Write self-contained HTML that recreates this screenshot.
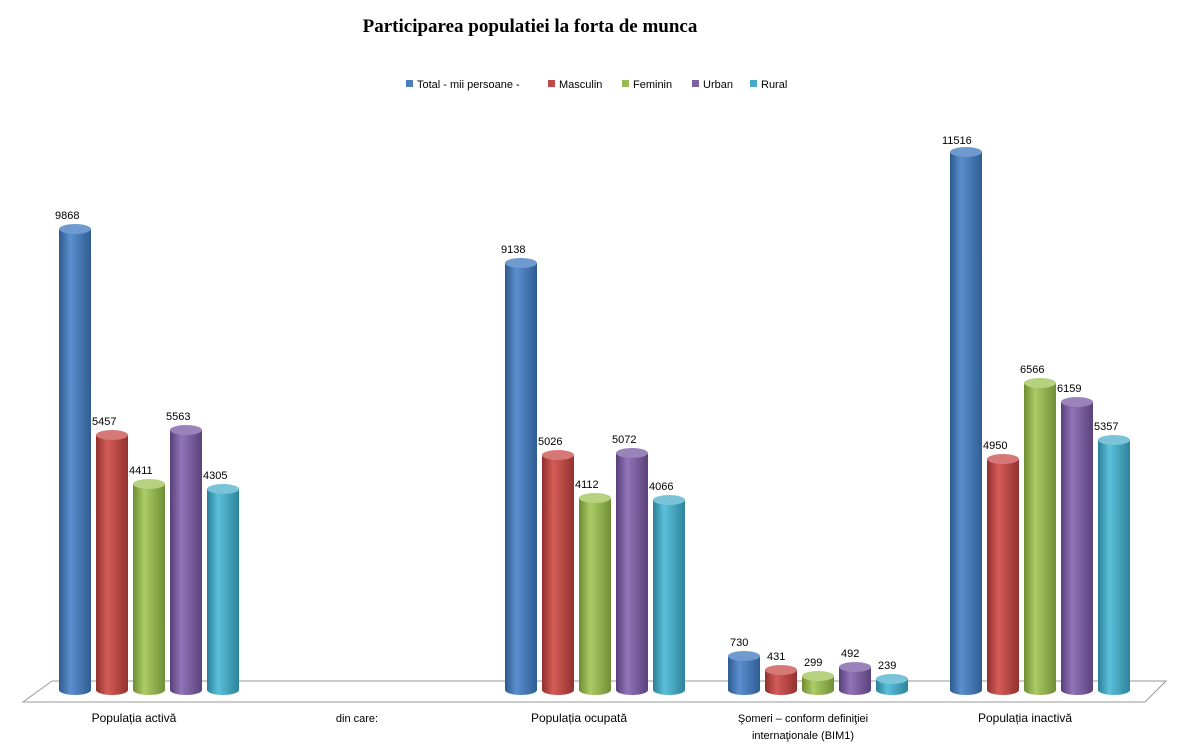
<!DOCTYPE html>
<html><head><meta charset="utf-8"><style>
html,body{margin:0;padding:0;background:#fff;}
svg{display:block;font-family:"Liberation Sans",sans-serif;}
</style></head><body>
<svg width="1201" height="746" viewBox="0 0 1201 746" xmlns="http://www.w3.org/2000/svg">
<defs>
<linearGradient id="g0" x1="0" x2="1"><stop offset="0" stop-color="#2d5a8e"/><stop offset="0.35" stop-color="#5b8fd0"/><stop offset="1" stop-color="#2f5d93"/></linearGradient>
<linearGradient id="g1" x1="0" x2="1"><stop offset="0" stop-color="#8f2f2c"/><stop offset="0.35" stop-color="#d45c58"/><stop offset="1" stop-color="#93312e"/></linearGradient>
<linearGradient id="g2" x1="0" x2="1"><stop offset="0" stop-color="#6e8c33"/><stop offset="0.35" stop-color="#abcc66"/><stop offset="1" stop-color="#718f36"/></linearGradient>
<linearGradient id="g3" x1="0" x2="1"><stop offset="0" stop-color="#573f78"/><stop offset="0.35" stop-color="#9274b8"/><stop offset="1" stop-color="#5a427b"/></linearGradient>
<linearGradient id="g4" x1="0" x2="1"><stop offset="0" stop-color="#2a7f97"/><stop offset="0.35" stop-color="#5cc0db"/><stop offset="1" stop-color="#2d839b"/></linearGradient>
</defs>
<text x="530" y="32" text-anchor="middle" font-family="Liberation Serif,serif" font-weight="bold" font-size="19">Participarea populatiei la forta de munca</text>
<g font-size="11">
<rect x="406" y="80" width="7" height="7" fill="#4a7ebb"/><text x="417" y="88">Total - mii persoane -</text>
<rect x="548" y="80" width="7" height="7" fill="#be4b48"/><text x="559" y="88">Masculin</text>
<rect x="622" y="80" width="7" height="7" fill="#98b954"/><text x="633" y="88">Feminin</text>
<rect x="692" y="80" width="7" height="7" fill="#7d60a0"/><text x="703" y="88">Urban</text>
<rect x="750" y="80" width="7" height="7" fill="#46aac5"/><text x="761" y="88">Rural</text>
</g>
<polygon points="52,681 1166,681 1145,702 23,702" fill="#fff" stroke="#999" stroke-width="1"/>
<g font-size="11">
<!-- group 1 -->
<path d="M59 229V690A16 5 0 0 0 91 690V229Z" fill="url(#g0)"/><ellipse cx="75" cy="229" rx="16" ry="5" fill="#6f9ad0"/><text x="55" y="219">9868</text>
<path d="M96 435V690A16 5 0 0 0 128 690V435Z" fill="url(#g1)"/><ellipse cx="112" cy="435" rx="16" ry="5" fill="#d67976"/><text x="92" y="425">5457</text>
<path d="M133 484V690A16 5 0 0 0 165 690V484Z" fill="url(#g2)"/><ellipse cx="149" cy="484" rx="16" ry="5" fill="#b6d27f"/><text x="129" y="474">4411</text>
<path d="M170 430V690A16 5 0 0 0 202 690V430Z" fill="url(#g3)"/><ellipse cx="186" cy="430" rx="16" ry="5" fill="#9a82ba"/><text x="166" y="420">5563</text>
<path d="M207 489V690A16 5 0 0 0 239 690V489Z" fill="url(#g4)"/><ellipse cx="223" cy="489" rx="16" ry="5" fill="#79c4d8"/><text x="203" y="479">4305</text>
<!-- group 2 -->
<path d="M505 263V690A16 5 0 0 0 537 690V263Z" fill="url(#g0)"/><ellipse cx="521" cy="263" rx="16" ry="5" fill="#6f9ad0"/><text x="501" y="253">9138</text>
<path d="M542 455V690A16 5 0 0 0 574 690V455Z" fill="url(#g1)"/><ellipse cx="558" cy="455" rx="16" ry="5" fill="#d67976"/><text x="538" y="445">5026</text>
<path d="M579 498V690A16 5 0 0 0 611 690V498Z" fill="url(#g2)"/><ellipse cx="595" cy="498" rx="16" ry="5" fill="#b6d27f"/><text x="575" y="488">4112</text>
<path d="M616 453V690A16 5 0 0 0 648 690V453Z" fill="url(#g3)"/><ellipse cx="632" cy="453" rx="16" ry="5" fill="#9a82ba"/><text x="612" y="443">5072</text>
<path d="M653 500V690A16 5 0 0 0 685 690V500Z" fill="url(#g4)"/><ellipse cx="669" cy="500" rx="16" ry="5" fill="#79c4d8"/><text x="649" y="490">4066</text>
<!-- group 3 -->
<path d="M728 656V690A16 5 0 0 0 760 690V656Z" fill="url(#g0)"/><ellipse cx="744" cy="656" rx="16" ry="5" fill="#6f9ad0"/><text x="730" y="646">730</text>
<path d="M765 670V690A16 5 0 0 0 797 690V670Z" fill="url(#g1)"/><ellipse cx="781" cy="670" rx="16" ry="5" fill="#d67976"/><text x="767" y="660">431</text>
<path d="M802 676V690A16 5 0 0 0 834 690V676Z" fill="url(#g2)"/><ellipse cx="818" cy="676" rx="16" ry="5" fill="#b6d27f"/><text x="804" y="666">299</text>
<path d="M839 667V690A16 5 0 0 0 871 690V667Z" fill="url(#g3)"/><ellipse cx="855" cy="667" rx="16" ry="5" fill="#9a82ba"/><text x="841" y="657">492</text>
<path d="M876 679V690A16 5 0 0 0 908 690V679Z" fill="url(#g4)"/><ellipse cx="892" cy="679" rx="16" ry="5" fill="#79c4d8"/><text x="878" y="669">239</text>
<!-- group 4 -->
<path d="M950 152V690A16 5 0 0 0 982 690V152Z" fill="url(#g0)"/><ellipse cx="966" cy="152" rx="16" ry="5" fill="#6f9ad0"/><text x="942" y="144">11516</text>
<path d="M987 459V690A16 5 0 0 0 1019 690V459Z" fill="url(#g1)"/><ellipse cx="1003" cy="459" rx="16" ry="5" fill="#d67976"/><text x="983" y="449">4950</text>
<path d="M1024 383V690A16 5 0 0 0 1056 690V383Z" fill="url(#g2)"/><ellipse cx="1040" cy="383" rx="16" ry="5" fill="#b6d27f"/><text x="1020" y="373">6566</text>
<path d="M1061 402V690A16 5 0 0 0 1093 690V402Z" fill="url(#g3)"/><ellipse cx="1077" cy="402" rx="16" ry="5" fill="#9a82ba"/><text x="1057" y="392">6159</text>
<path d="M1098 440V690A16 5 0 0 0 1130 690V440Z" fill="url(#g4)"/><ellipse cx="1114" cy="440" rx="16" ry="5" fill="#79c4d8"/><text x="1094" y="430">5357</text>
</g>
<g font-size="12" text-anchor="middle">
<text x="134" y="722">Populația activă</text>
<text x="357" y="722" font-size="11">din care:</text>
<text x="579" y="722">Populația ocupată</text>
<text x="803" y="722" font-size="11">Şomeri – conform definiţiei</text>
<text x="803" y="739" font-size="11">internaţionale (BIM1)</text>
<text x="1025" y="722">Populația inactivă</text>
</g>
</svg>
</body></html>
